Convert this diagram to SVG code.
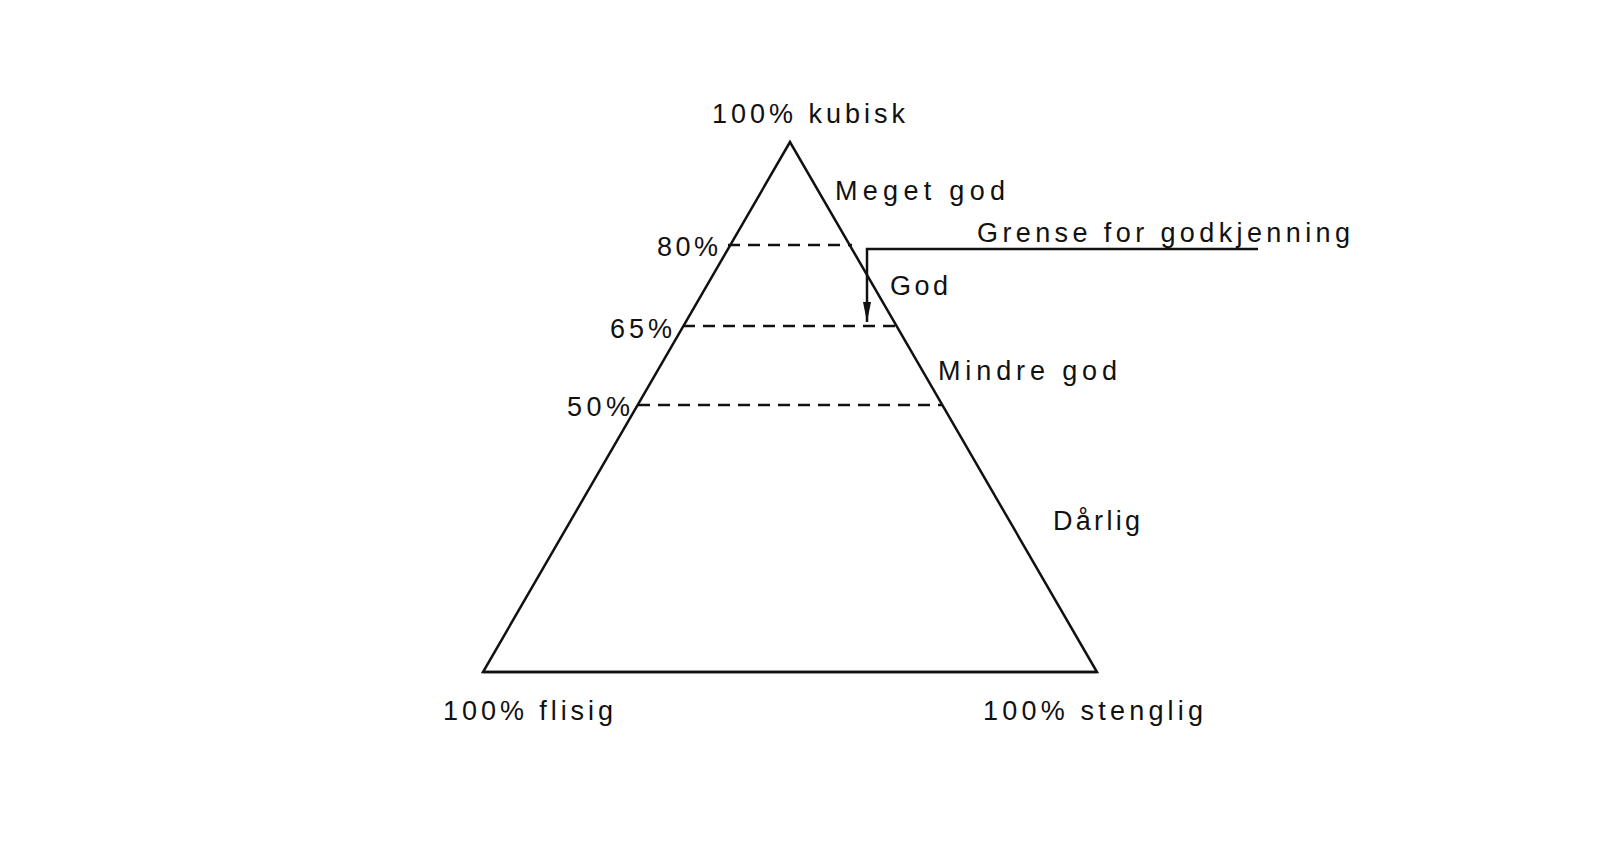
<svg xmlns="http://www.w3.org/2000/svg" width="1600" height="851" viewBox="0 0 1600 851">
<style>
text{font-family:"Liberation Sans","DejaVu Sans",Arial,sans-serif;font-size:27px;fill:#111}
.ln{stroke:#111;stroke-width:2.5;fill:none}
.dash{stroke:#111;stroke-width:2.5;stroke-dasharray:12 8;fill:none}
</style>
<defs>
<marker id="ah" viewBox="0 0 20 10" refX="20" refY="5" markerWidth="20" markerHeight="10" markerUnits="userSpaceOnUse" orient="auto">
<path d="M0,1 L20,5 L0,9 Z" fill="#111"/>
</marker>
</defs>
<rect width="1600" height="851" fill="#fff"/>
<g id="triangle">
<path class="ln" d="M790,142 L483,672 L1097,672 Z"/>
<line class="ln" x1="483" y1="672" x2="1097" y2="672" stroke-width="3.2"/>
</g>
<g id="connectors">
<line class="dash" x1="728" y1="245" x2="852" y2="245"/>
<line class="dash" x1="683" y1="326" x2="897" y2="326"/>
<line class="dash" x1="638" y1="405" x2="942" y2="405"/>
<path class="ln" d="M1258,249 L867,249 L867,322" marker-end="url(#ah)"/>
</g>
<g id="labels">
<text x="712" y="123" textLength="193" lengthAdjust="spacing">100% kubisk</text>
<text x="835" y="200" textLength="170" lengthAdjust="spacing">Meget god</text>
<text x="977" y="242" textLength="373" lengthAdjust="spacing">Grense for godkjenning</text>
<text x="657" y="256" textLength="61" lengthAdjust="spacing">80%</text>
<text x="890" y="295" textLength="58" lengthAdjust="spacing">God</text>
<text x="610" y="338" textLength="62" lengthAdjust="spacing">65%</text>
<text x="938" y="380" textLength="179" lengthAdjust="spacing">Mindre god</text>
<text x="567" y="416" textLength="63" lengthAdjust="spacing">50%</text>
<text x="1053" y="530" textLength="87" lengthAdjust="spacing">Dårlig</text>
<text x="443" y="720" textLength="170" lengthAdjust="spacing">100% flisig</text>
<text x="983" y="720" textLength="220" lengthAdjust="spacing">100% stenglig</text>
</g>
</svg>
